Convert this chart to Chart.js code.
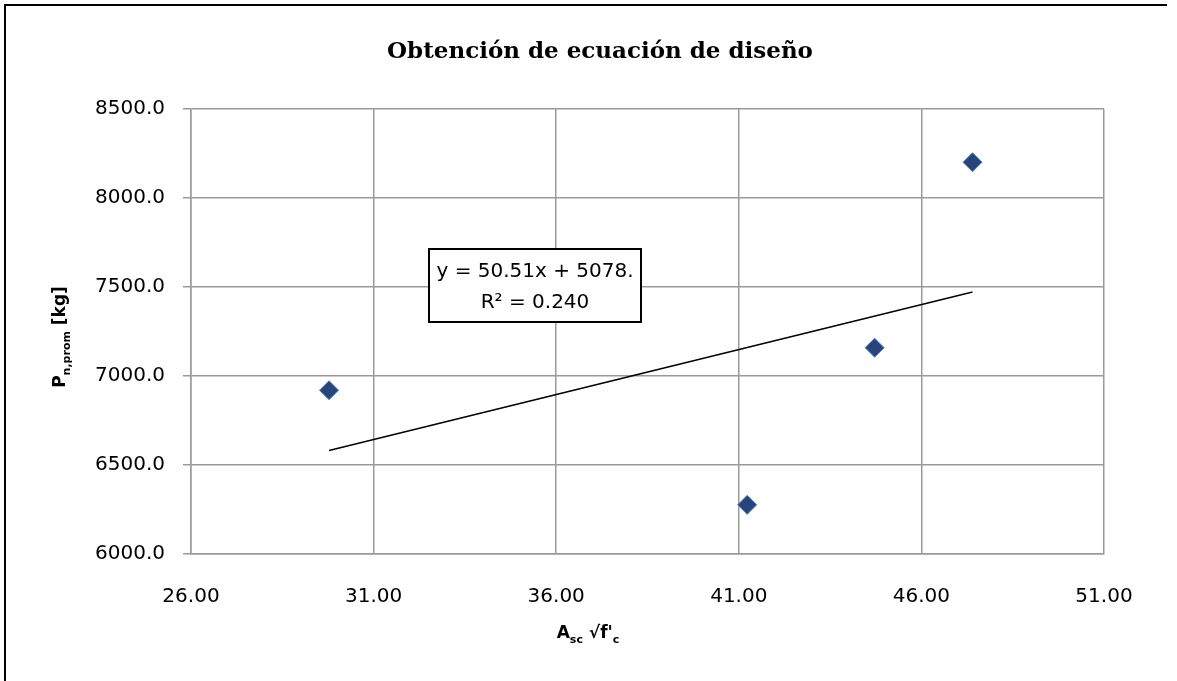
<!DOCTYPE html>
<html>
<head>
<meta charset="utf-8">
<script src="https://cdn.jsdelivr.net/npm/chart.js@4/dist/chart.umd.min.js"></script>
<style>
  html, body { margin: 0; padding: 0; background: #fff; }
  canvas { display: block; }
</style>
</head>
<body>
<canvas id="chart" width="1177" height="681"></canvas>
<script>
// datos
const asc = [29.78, 41.23, 44.72, 47.40];
const pProm = [6920, 6276, 7159, 8201];
const trendX = [29.78, 47.40];
const trendY = [6582, 7472];
const xTicks = [26, 31, 36, 41, 46, 51];
const yTicks = [6000, 6500, 7000, 7500, 8000, 8500];
const titleText = 'Obtención de ecuación de diseño';
const eqLines = ['y = 50.51x + 5078.', 'R² = 0.240'];

const GRID = '#9a9a9a';

// dibuja texto con subindices: parts = [[texto, fuente, desplazamiento]]
function drawParts(ctx, parts, cx, cy) {
    let total = 0;
    parts.forEach(p => { ctx.font = p[1]; total += ctx.measureText(p[0]).width; });
    let x = cx - total / 2;
    parts.forEach(p => {
        ctx.font = p[1];
        ctx.fillText(p[0], x, cy + p[2]);
        x += ctx.measureText(p[0]).width;
    });
}

const extras = {
    id: 'extras',
    afterDraw(chart) {
        const ctx = chart.ctx;
        const area = chart.chartArea;
        ctx.save();

        // marco exterior
        ctx.strokeStyle = '#000';
        ctx.lineWidth = 2;
        ctx.beginPath();
        ctx.moveTo(5, 681);
        ctx.lineTo(5, 5);
        ctx.lineTo(1167, 5);
        ctx.stroke();

        // titulo
        ctx.fillStyle = '#000';
        ctx.textAlign = 'center';
        ctx.textBaseline = 'middle';
        ctx.font = 'bold 23px "DejaVu Serif"';
        ctx.fillText(titleText, 600, 52);

        // titulo eje x
        ctx.textAlign = 'left';
        ctx.textBaseline = 'alphabetic';
        drawParts(ctx, [
            ['A', 'bold 17px "DejaVu Sans"', 0],
            ['sc', 'bold 11px "DejaVu Sans"', 5],
            [' √f\'', 'bold 17px "DejaVu Sans"', 0],
            ['c', 'bold 11px "DejaVu Sans"', 5]
        ], 588, 638);

        // titulo eje y
        ctx.translate(59, 337);
        ctx.rotate(-Math.PI / 2);
        drawParts(ctx, [
            ['P', 'bold 17px "DejaVu Sans"', 0],
            ['n,prom', 'bold 11px "DejaVu Sans"', 5],
            [' [kg]', 'bold 17px "DejaVu Sans"', 0]
        ], 0, 6);
        ctx.setTransform(1, 0, 0, 1, 0, 0);

        // cuadro de la ecuacion
        const bx = area.left + 238, by = area.top + 140, bw = 212, bh = 73;
        ctx.fillStyle = '#fff';
        ctx.fillRect(bx, by, bw, bh);
        ctx.strokeStyle = '#000';
        ctx.lineWidth = 2;
        ctx.strokeRect(bx, by, bw, bh);
        ctx.fillStyle = '#000';
        ctx.textAlign = 'center';
        ctx.textBaseline = 'middle';
        ctx.font = '20px "DejaVu Sans"';
        ctx.fillText(eqLines[0], bx + bw / 2, by + 23);
        ctx.fillText(eqLines[1], bx + bw / 2, by + 54);

        ctx.restore();
    }
};

new Chart(document.getElementById('chart').getContext('2d'), {
    type: 'scatter',
    data: {
        datasets: [{
            label: 'P',
            data: asc.map((x, i) => ({ x: x, y: pProm[i] })),
            pointStyle: 'rectRot',
            pointRadius: 9.5,
            pointHoverRadius: 9.5,
            backgroundColor: '#27457a',
            borderColor: '#4f7fbf',
            borderWidth: 1,
            order: 1
        }, {
            label: 'Tendencia',
            data: trendX.map((x, i) => ({ x: x, y: trendY[i] })),
            showLine: true,
            pointRadius: 0,
            borderColor: '#000',
            borderWidth: 1.5,
            fill: false,
            order: 2
        }]
    },
    options: {
        responsive: false,
        animation: false,
        layout: { padding: { top: 109, right: 73, left: 0, bottom: 0 } },
        plugins: {
            legend: { display: false },
            tooltip: { enabled: false },
            title: { display: false }
        },
        scales: {
            x: {
                type: 'linear',
                min: xTicks[0],
                max: xTicks[xTicks.length - 1],
                afterBuildTicks: (s) => { s.ticks = xTicks.map(v => ({ value: v })); },
                afterFit: (s) => { s.height = 127; },
                grid: { color: GRID, lineWidth: 1.5, drawTicks: false },
                border: { color: GRID, width: 1.5 },
                ticks: {
                    padding: 31,
                    color: '#000',
                    font: { family: 'DejaVu Sans', size: 20 },
                    maxRotation: 0,
                    callback: (v) => Number(v).toFixed(2)
                }
            },
            y: {
                type: 'linear',
                min: yTicks[0],
                max: yTicks[yTicks.length - 1],
                afterBuildTicks: (s) => { s.ticks = yTicks.map(v => ({ value: v })); },
                afterFit: (s) => { s.width = 191; },
                grid: { color: GRID, lineWidth: 1.5, tickLength: 8 },
                border: { color: GRID, width: 1.5 },
                ticks: {
                    padding: 18,
                    color: '#000',
                    font: { family: 'DejaVu Sans', size: 20 },
                    callback: (v) => Number(v).toFixed(1)
                }
            }
        }
    },
    plugins: [extras]
});
</script>
</body>
</html>
